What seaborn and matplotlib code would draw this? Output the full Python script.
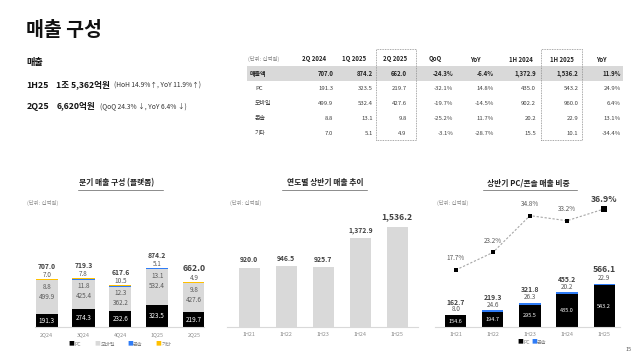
import numpy as np
import pandas as pd
import matplotlib
matplotlib.use('Agg')
import matplotlib.pyplot as plt
import seaborn as sns
from matplotlib.patches import Rectangle
from matplotlib.lines import Line2D

sns.set_theme(style='white')
plt.rcParams['font.family'] = ['Noto Sans CJK KR', 'DejaVu Sans']

# ---------------- data ----------------
quarters = ['2Q24', '3Q24', '4Q24', '1Q25', '2Q25']
q_pc = [191.3, 274.3, 232.6, 323.5, 219.7]
q_mobile = [499.9, 425.4, 362.2, 532.4, 427.6]
q_console = [8.8, 11.8, 12.3, 13.1, 9.8]
q_other = [7.0, 7.8, 10.5, 5.1, 4.9]
q_total = [707.0, 719.3, 617.6, 874.2, 662.0]

halves = ['1H21', '1H22', '1H23', '1H24', '1H25']
h_total = [920.0, 946.5, 925.7, 1372.9, 1536.2]
h_pc = [154.6, 194.7, 295.5, 435.0, 543.2]
h_console = [8.0, 24.6, 26.3, 20.2, 22.9]
h_pcc_total = [162.7, 219.3, 321.8, 455.2, 566.1]
h_share = [17.7, 23.2, 34.8, 33.2, 36.9]

table_cols = ['2Q 2024', '1Q 2025', '2Q 2025', 'QoQ', 'YoY', '1H 2024', '1H 2025', 'YoY']
table_rows = ['매출액', 'PC', '모바일', '콘솔', '기타']
table_vals = [
    ['707.0', '874.2', '662.0', '-24.3%', '-6.4%', '1,372.9', '1,536.2', '11.9%'],
    ['191.3', '323.5', '219.7', '-32.1%', '14.8%', '435.0', '543.2', '24.9%'],
    ['499.9', '532.4', '427.6', '-19.7%', '-14.5%', '902.2', '960.0', '6.4%'],
    ['8.8', '13.1', '9.8', '-25.2%', '11.7%', '20.2', '22.9', '13.1%'],
    ['7.0', '5.1', '4.9', '-3.1%', '-28.7%', '15.5', '10.1', '-34.4%'],
]

# ---------------- helpers ----------------
W, H = 640, 355
fig = plt.figure(figsize=(6.4, 3.55), dpi=100)
fig.patch.set_facecolor('white')


def fx(x):
    return x / W


def fy(y):
    return 1 - y / H


def T(x, y, s, **kw):
    kw.setdefault('va', 'center')
    return fig.text(fx(x), fy(y), s, **kw)


def add_ax(x0, y0, x1, y1):
    return fig.add_axes([fx(x0), fy(y1), (x1 - x0) / W, (y1 - y0) / H])


PX = 0.72  # points per pixel
DARK = '#404040'
MID = '#595959'
LGRAY = '#d9d9d9'
BLUE = '#2f7cf6'
YEL = '#ffc000'

# ---------------- header text ----------------
T(26, 30, '매출 구성', fontsize=14, fontweight='bold', color='#111111')
T(26.5, 62, '매출', fontsize=6.6, fontweight='bold', color='#111111')
T(26.5, 85, '1H25', fontsize=6.4, fontweight='bold', color='#111111')
T(56.5, 85, '1조 5,362억원', fontsize=6.2, fontweight='bold', color='#111111')
T(113.5, 85.5, '(HoH 14.9%↑, YoY 11.9%↑)', fontsize=4.8, color='#333333')
T(26.5, 106, '2Q25', fontsize=6.4, fontweight='bold', color='#111111')
T(56.5, 106, '6,620억원', fontsize=6.2, fontweight='bold', color='#111111')
T(99.5, 106.5, '(QoQ 24.3% ↓, YoY 6.4% ↓)', fontsize=4.8, color='#333333')

# ---------------- table ----------------
fig.patches.append(Rectangle((fx(247), fy(80.7)), (623 - 247) / W, (80.7 - 66) / H,
                             transform=fig.transFigure, facecolor=LGRAY, edgecolor='none', zorder=0))
for bx0, bx1 in [(375.7, 416), (541, 582.3)]:
    fig.patches.append(Rectangle((fx(bx0), fy(140)), (bx1 - bx0) / W, (140 - 49.3) / H,
                                 transform=fig.transFigure, facecolor='none', edgecolor='#8c8c8c',
                                 linestyle=(0, (1, 1)), linewidth=0.6, zorder=1))
T(248, 59, '(단위: 십억원)', fontsize=3.9, color='#7f7f7f')
head_cx = [314.5, 354.5, 395, 435, 475.5, 520.5, 561.5, 601.5]
val_rx = [333.3, 372.7, 406.7, 453.3, 494, 536, 578.3, 620.7]
for c, cx in zip(table_cols, head_cx):
    T(cx, 59, c, fontsize=4.3, fontweight='bold', color='#222222', ha='center')
row_y = [73.3, 89, 103.3, 118.3, 133.3]
for r, (name, yy) in enumerate(zip(table_rows, row_y)):
    bold = r == 0
    T(250 if bold else 255, yy, name, fontsize=4.3, color='#222222' if bold else '#404040',
      fontweight='bold' if bold else 'normal')
    for v, rx in zip(table_vals[r], val_rx):
        T(rx, yy, v, fontsize=4.3, ha='right', color='#222222' if bold else '#404040',
          fontweight='bold' if bold else 'normal')

# ---------------- chart titles ----------------
titles = [('분기 매출 구성 (플랫폼)', 117, 78, 163),
          ('연도별 상반기 매출 추이', 325.5, 282, 367),
          ('상반기 PC/콘솔 매출 비중', 528, 483, 577)]
for t, cx, ux0, ux1 in titles:
    T(cx, 183, t, fontsize=5.6, fontweight='bold', color='#222222', ha='center')
    fig.add_artist(Line2D([fx(ux0), fx(ux1)], [fy(190.5), fy(190.5)], transform=fig.transFigure,
                          color='#8c8c8c', lw=0.7))
for ux in [27, 230, 437]:
    T(ux, 203, '(단위: 십억원)', fontsize=3.9, color='#8c8c8c')

AX_TOP, AX_BOT = 200, 327.3


def style_ax(ax, xlim, ylim):
    ax.set_xlim(*xlim)
    ax.set_ylim(*ylim)
    for s in ['top', 'right', 'left']:
        ax.spines[s].set_visible(False)
    ax.spines['bottom'].set_color(LGRAY)
    ax.spines['bottom'].set_linewidth(0.8)
    ax.set_yticks([])
    ax.set_xlabel('')
    ax.set_ylabel('')
    ax.tick_params(axis='x', length=0, pad=3.3, labelsize=3.9, labelcolor='#8c8c8c')
    ax.set_facecolor('none')
    ax.grid(False)


def lab(ax, x, y, s, up_px, **kw):
    """Label at (x, y) shifted up by up_px pixels (negative = down)."""
    kw.setdefault('fontsize', 4.6)
    kw.setdefault('color', MID)
    ax.annotate(s, xy=(x, y), xytext=(0, up_px * PX), textcoords='offset points',
                ha='center', va='center', annotation_clip=False, **kw)


# ---------------- chart 1: quarterly stacked ----------------
ax1 = add_ax(35, AX_TOP, 204, AX_BOT)
cum1 = np.array(q_pc)
cum2 = cum1 + np.array(q_mobile)
cum3 = cum2 + np.array(q_console)
cum4 = cum3 + np.array(q_other)
for cum, col in [(cum4, YEL), (cum3, BLUE), (cum2, LGRAY), (cum1, 'black')]:
    sns.barplot(x=quarters, y=cum, color=col, saturation=1, width=0.6,
                linewidth=0, edgecolor='none', ax=ax1)
scale1 = 0.068
style_ax(ax1, (-0.318, 4.27), (0, (AX_BOT - AX_TOP) / scale1))
for i in range(5):
    top = cum4[i]
    big = i == 4
    lab(ax1, i, top, f'{q_total[i]:.1f}', 13.5 if big else 12.5,
        fontsize=6.2 if big else 4.9, fontweight='bold', color=DARK)
    lab(ax1, i, top, f'{q_other[i]:.1f}', 4.3)
    lab(ax1, i, top, f'{q_console[i]:.1f}', -8.0)
    lab(ax1, i, top, f'{q_mobile[i]:.1f}', -18)
    lab(ax1, i, q_pc[i] / 2, f'{q_pc[i]:.1f}', 0, color='white')

# legend chart 1
for sx, col, name in [(71.7, 'black', 'PC'), (97.7, LGRAY, '모바일'), (130, BLUE, '콘솔'), (158.3, YEL, '기타')]:
    T(sx, 344.3, '■', fontsize=4.2, color=col, ha='center')
    T(sx + 3.2, 344.3, name, fontsize=3.8, color='#7f7f7f')

# ---------------- chart 2: half-year totals ----------------
ax2 = add_ax(227, AX_TOP, 418, AX_BOT)
sns.barplot(x=halves, y=h_total, color=LGRAY, saturation=1, width=0.57,
            linewidth=0, edgecolor='none', ax=ax2)
scale2 = 0.065
style_ax(ax2, (-0.603, 4.56), (0, (AX_BOT - AX_TOP) / scale2))
for i, v in enumerate(h_total):
    big = i == 4
    lab(ax2, i, v, f'{v:,.1f}', 10.5 if big else 7.5,
        fontsize=6.2 if big else 4.9, fontweight='bold', color=DARK)

# ---------------- chart 3: PC/console ----------------
ax3 = add_ax(435, AX_TOP, 620, AX_BOT)
cum_pc = np.array(h_pc)
cum_cc = cum_pc + np.array(h_console)
for cum, col in [(cum_cc, BLUE), (cum_pc, 'black')]:
    sns.barplot(x=halves, y=cum, color=col, saturation=1, width=0.57,
                linewidth=0, edgecolor='none', ax=ax3)
scale3 = 0.077
style_ax(ax3, (-0.562, 4.43), (0, (AX_BOT - AX_TOP) / scale3))
for i in range(5):
    top = cum_cc[i]
    big = i == 4
    lab(ax3, i, top, f'{h_pcc_total[i]:.1f}', 14.5 if big else 12.7,
        fontsize=6.2 if big else 4.9, fontweight='bold', color=DARK)
    lab(ax3, i, top, f'{h_console[i]:.1f}', 5.5)
    lab(ax3, i, h_pc[i] / 2, f'{h_pc[i]:.1f}', 0, color='white', fontsize=4.0)

ax3b = ax3.twinx()
xs = np.arange(5)
sns.lineplot(x=xs, y=h_share, ax=ax3b, color='#a6a6a6', linewidth=0.8,
             linestyle=(0, (2, 1.6)), zorder=2)
sns.scatterplot(x=xs[:4], y=h_share[:4], ax=ax3b, marker='s', s=9, color='black',
                linewidth=0, zorder=3)
sns.scatterplot(x=xs[4:], y=h_share[4:], ax=ax3b, marker='s', s=22, color='black',
                linewidth=0, zorder=3)
pscale = 3.177
ax3b.set_ylim(-(AX_BOT - 326.2) / pscale, (326.2 - AX_TOP) / pscale)
ax3b.set_xlim(-0.562, 4.43)
for s in ax3b.spines.values():
    s.set_visible(False)
ax3b.set_yticks([])
ax3b.set_ylabel('')
ax3b.set_xlabel('')
for i, v in enumerate(h_share):
    big = i == 4
    lab(ax3b, i, v, f'{v:.1f}%', 9 if big else 11.5,
        fontsize=6.2 if big else 4.6, fontweight='bold' if big else 'normal',
        color=DARK if big else MID)

for sx, col, name in [(520, 'black', 'PC'), (534, BLUE, '콘솔')]:
    T(sx, 342, '■', fontsize=4.2, color=col, ha='center')
    T(sx + 3.2, 342, name, fontsize=3.8, color='#7f7f7f')

T(629, 349.5, '15', fontsize=4.0, color='#595959', ha='center')

fig.savefig('out.png', dpi=100)
